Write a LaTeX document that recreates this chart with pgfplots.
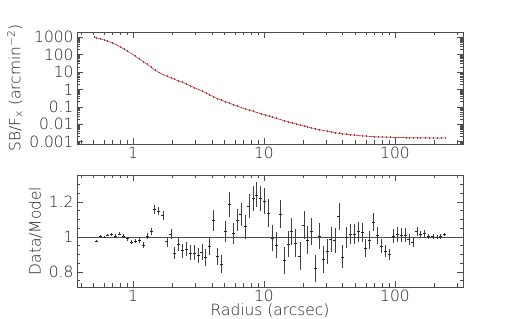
\documentclass[border=0pt]{standalone}
\usepackage{fontspec}
\setmainfont{DejaVu Sans ExtraLight}
\usepackage{pgfplots}
\usepackage{pgfplotstable}
\pgfplotsset{compat=1.18}
\definecolor{fr}{gray}{0.3}
\definecolor{tx}{gray}{0.12}
\definecolor{modelred}{RGB}{255,70,70}

\pgfplotstableread{
r model
0.507 1000
0.526 929
0.564 809
0.602 706
0.641 593
0.689 483
0.739 382
0.793 287
0.851 214
0.908 160
0.974 116
1.04 82
1.116 55.8
1.197 39.4
1.284 27.7
1.378 18.7
1.468 13.0
1.575 9.5
1.69 7.19
1.814 5.74
1.946 4.59
2.077 3.81
2.23 3.11
2.38 2.58
2.55 2.08
2.74 1.63
2.94 1.28
3.15 1.01
3.36 0.807
3.59 0.637
3.85 0.494
4.13 0.383
4.43 0.297
4.75 0.237
5.07 0.199
5.44 0.164
5.84 0.135
6.27 0.111
6.68 0.0915
7.17 0.0775
7.69 0.0657
8.26 0.0556
8.81 0.0478
9.45 0.0407
10.14 0.0346
10.88 0.0295
11.53 0.0259
12.38 0.0221
13.28 0.0189
14.25 0.0162
15.29 0.0140
16.32 0.0122
17.5 0.0105
18.8 0.00913
20.2 0.00794
21.5 0.00706
23.1 0.00620
24.6 0.00557
26.4 0.00495
28.3 0.00444
30.4 0.00400
32.4 0.00366
34.8 0.00334
37.4 0.00307
39.9 0.00286
42.8 0.00267
45.9 0.00251
49.2 0.00238
52.8 0.00226
56.7 0.00216
59.8 0.00210
64.2 0.00202
68.9 0.00196
73.9 0.00191
79.3 0.00187
85.1 0.00183
91.2 0.00180
97.9 0.00177
105 0.00175
112.7 0.00173
121 0.00172
128 0.00171
137 0.00169
147 0.00168
157 0.00168
169 0.00167
181 0.00166
195 0.00166
209 0.00165
224 0.00165
240 0.00165
}\modeltab

\pgfplotstableread{
r ratio err
0.526 0.977 0.006
0.564 1.002 0.007
0.602 0.998 0.007
0.641 1.011 0.008
0.689 1.015 0.008
0.739 1.006 0.008
0.793 1.017 0.009
0.851 1.004 0.010
0.908 0.989 0.011
0.974 0.969 0.012
1.04 0.975 0.012
1.116 0.980 0.013
1.197 0.954 0.016
1.284 1.004 0.018
1.378 1.032 0.020
1.468 1.157 0.025
1.575 1.148 0.025
1.69 1.121 0.027
1.814 0.973 0.028
1.946 1.017 0.030
2.077 0.909 0.035
2.23 0.956 0.038
2.38 0.921 0.040
2.55 0.929 0.040
2.74 0.909 0.042
2.94 0.909 0.043
3.15 0.894 0.045
3.36 0.913 0.045
3.59 0.881 0.047
3.85 0.946 0.048
4.13 1.094 0.060
4.43 0.887 0.050
4.75 0.844 0.052
5.07 1.032 0.060
5.44 1.186 0.070
5.84 1.021 0.060
6.27 1.096 0.065
6.68 1.128 0.068
7.17 1.058 0.068
7.69 1.175 0.070
8.26 1.219 0.070
8.81 1.240 0.072
9.45 1.219 0.072
10.14 1.203 0.073
10.88 1.136 0.080
11.53 0.994 0.075
12.38 0.952 0.075
13.28 1.130 0.080
14.25 0.867 0.078
15.29 0.960 0.076
16.32 1.032 0.076
17.5 0.965 0.078
18.8 0.890 0.078
20.2 1.067 0.080
21.5 0.983 0.078
23.1 1.029 0.078
24.6 0.819 0.077
26.4 1.004 0.075
28.3 0.871 0.075
30.4 0.915 0.072
32.4 0.986 0.070
34.8 0.979 0.072
37.4 1.117 0.075
39.9 0.886 0.065
42.8 0.998 0.060
45.9 1.017 0.058
49.2 1.017 0.058
52.8 1.029 0.056
56.7 1.025 0.055
59.8 0.937 0.053
64.2 0.983 0.050
68.9 1.084 0.052
73.9 1.008 0.048
79.3 0.948 0.040
85.1 0.919 0.035
91.2 0.898 0.032
97.9 1.006 0.040
105 1.012 0.042
112.7 1.008 0.040
121 1.008 0.040
128 0.986 0.030
137 0.969 0.025
147 1.029 0.025
157 1.012 0.020
169 1.021 0.020
181 1.002 0.016
195 1.002 0.014
209 1.000 0.012
224 1.002 0.012
240 1.013 0.010
}\ratiotab

\pgfplotsset{
  myax/.style={
    scale only axis, width=386bp, height=112bp,
    xmin=0.374, xmax=331,
    xtick={1,10,100}, xticklabels={1,10,100},
    minor xtick={0.4,0.5,0.6,0.7,0.8,0.9,2,3,4,5,6,7,8,9,20,30,40,50,60,70,80,90,200,300},
    tick align=inside,
    major tick length=6bp, minor tick length=3.5bp,
    axis line style={fr, line width=0.8bp},
    every tick/.style={fr, line width=0.6bp},
    tick label style={font=\fontsize{15.5}{15.5}\selectfont, text=tx},
    label style={font=\fontsize{15.5}{16}\selectfont, text=tx},
  }
}

\begin{document}
\begin{tikzpicture}
\path[use as bounding box] (0,0) rectangle (514bp,319bp);
\begin{axis}[xmode=log, ymode=log, myax, at={(77bp,175bp)}, anchor=south west,
  ymin=7.4e-4, ymax=2000,
  ytick={1e-3,1e-2,0.1,1,10,100,1000},
  yticklabels={0.001,0.01,0.1,1,10,100,1000},
  minor ytick={8e-4,9e-4,2e-3,3e-3,4e-3,5e-3,6e-3,7e-3,8e-3,9e-3,2e-2,3e-2,4e-2,5e-2,6e-2,7e-2,8e-2,9e-2,0.2,0.3,0.4,0.5,0.6,0.7,0.8,0.9,2,3,4,5,6,7,8,9,20,30,40,50,60,70,80,90,200,300,400,500,600,700,800,900},
  ylabel={SB/F\textsubscript{x} (arcmin\textsuperscript{−2})},
]
\addplot[gray!70!black, only marks, mark=|, mark size=0.9bp, line width=0.3bp] table[x=r, y=model] {\modeltab};
\addplot[modelred, line width=0.75bp, no marks] table[x=r, y=model] {\modeltab};
\end{axis}
\begin{axis}[xmode=log, myax, at={(77bp,32bp)}, anchor=south west,
  ymin=0.714, ymax=1.353,
  ytick={0.8,1,1.2}, yticklabels={0.8,1,1.2},
  minor ytick={0.75,0.85,0.9,0.95,1.05,1.1,1.15,1.25,1.3,1.35},
  ylabel={Data/Model}, xlabel={Radius (arcsec)},
  xlabel style={yshift=5bp},
]
\addplot[fr, line width=0.7bp, no marks] coordinates {(0.374,1) (331,1)};
\addplot[black!85, only marks, mark=-, mark size=1.5bp, line width=0.6bp,
  error bars/.cd, y dir=both, y explicit, error mark=none,
  error bar style={line width=0.6bp, black!75}]
  table[x=r, y=ratio, y error=err] {\ratiotab};
\end{axis}
\end{tikzpicture}
\end{document}
